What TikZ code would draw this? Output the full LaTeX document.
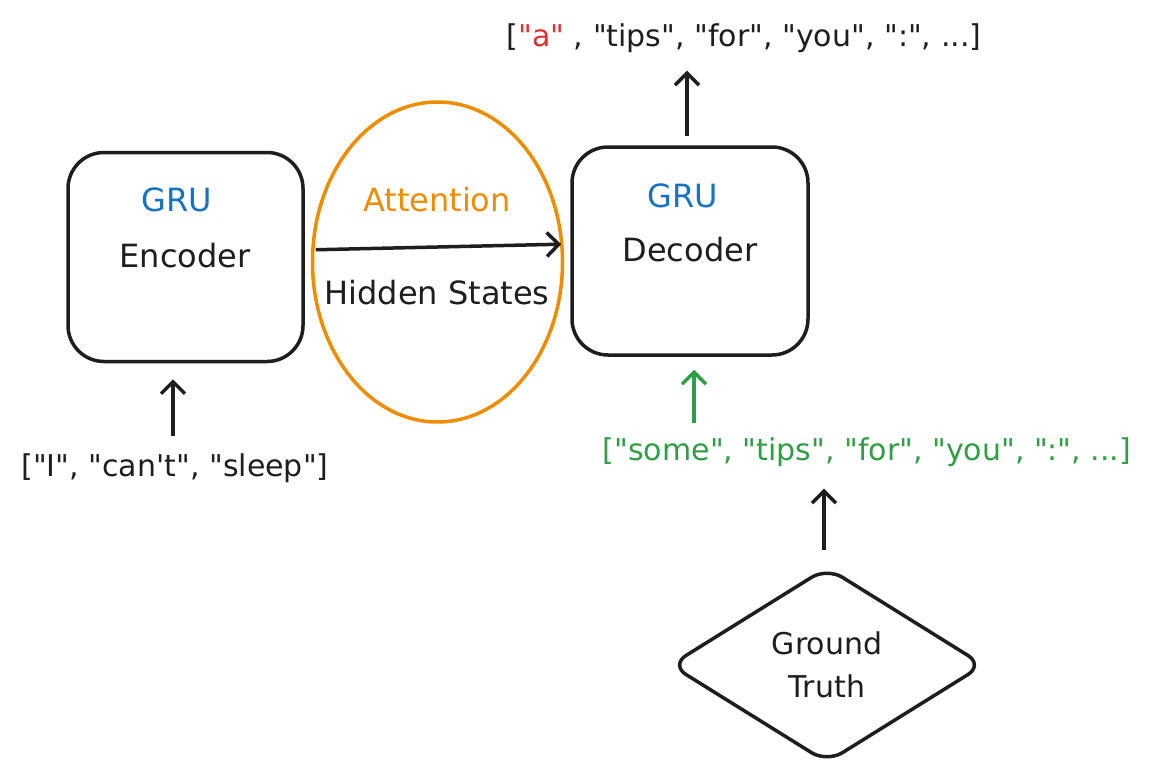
\documentclass[tikz,border=0pt]{standalone}
\usepackage{fontspec}
\newfontfamily\dvfont{DejaVu Sans}
\usetikzlibrary{shapes.geometric,arrows.meta}
\definecolor{exblue}{HTML}{1971C2}
\definecolor{exorange}{HTML}{F08C00}
\definecolor{exred}{HTML}{E03131}
\definecolor{exgreen}{HTML}{2F9E44}
\definecolor{exblack}{HTML}{1E1E1E}
\begin{document}
\begin{tikzpicture}[x=1pt,y=-1pt,
  every node/.style={font=\dvfont\fontsize{30}{43}\selectfont, text=exblack},
  big/.style={font=\dvfont\fontsize{32}{43}\selectfont},
  box/.style={draw=exblack, line width=3.5pt, rounded corners=36pt, minimum width=235pt, minimum height=209pt},
  lbl/.style={inner sep=0pt},
  arr/.style={draw=exblack, line width=3.5pt, -{Straight Barb[length=12pt,width=24pt,line width=3.5pt]}},
  garr/.style={arr, draw=exgreen}
]
\useasboundingbox (0,0) rectangle (1152,784);
\fill[white] (0,0) rectangle (1152,784);

% boxes
\node[box] (enc) at (185.5,257) {};
\node[box, minimum width=236pt, minimum height=208pt] (dec) at (690,251) {};
\node[draw=exorange, line width=3.5pt, ellipse, minimum width=250pt, minimum height=320pt] (att) at (437.5,262) {};

% labels inside
\node[lbl, big, text=exblue] (gru1) at (177,200) {GRU};
\node[lbl, big] (enctxt) at (185,256) {Encoder};
\node[lbl, big, text=exblue] (gru2) at (683,196) {GRU};
\node[lbl, big] (dectxt) at (690,250) {Decoder};
\node[lbl, big, text=exorange] (atttxt) at (437,200) {Attention};
\node[lbl, big] (hid) at (437,293) {Hidden States};

% texts
\node[lbl] (out) at (744,38) {[\textcolor{exred}{"a"} , "tips", "for", "you", ":", ...]};
\node[lbl] (inp) at (175,468) {["I", "can't", "sleep"]};
\node[lbl, text=exgreen] (gt) at (867,452) {["some", "tips", "for", "you", ":", ...]};

% diamond
\node[draw=exblack, line width=3.5pt, diamond, rounded corners=18pt, minimum width=314pt, minimum height=196pt, aspect=1.61, inner sep=0pt, align=center] (truth) at (827,665) {Ground\\Truth};

% connectors
\draw[arr, shorten <=11pt, shorten >=9pt] ([yshift=7pt]enc.east) -- ([yshift=7pt]dec.west);
\draw[arr, shorten <=9pt, shorten >=18pt] ([xshift=-3pt]dec.north) -- ([xshift=-57pt]out.south);
\draw[arr, shorten <=17pt, shorten >=16pt] ([xshift=-2pt]inp.north) -- ([xshift=-12.5pt]enc.south);
\draw[garr, shorten <=14pt, shorten >=13pt] ([xshift=-173pt]gt.north) -- ([xshift=4pt]dec.south);
\draw[arr, shorten <=15pt, shorten >=22pt] ([xshift=-3pt]truth.north) -- ([xshift=-43pt]gt.south);
\end{tikzpicture}
\end{document}
